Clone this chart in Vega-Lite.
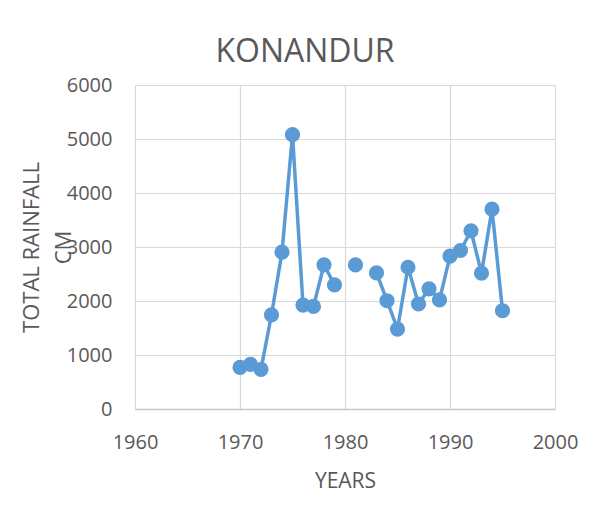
{
  "$schema": "https://vega.github.io/schema/vega-lite/v6.json",
  "width": 420,
  "height": 324,
  "autosize": {"type": "none"},
  "padding": {"left": 135, "top": 85, "right": 50, "bottom": 118},
  "background": "white",
  "config": {
    "view": {"stroke": null},
    "font": "Open Sans"
  },
  "title": {
    "text": "KONANDUR",
    "fontSize": 32,
    "fontWeight": "normal",
    "color": "#595959",
    "font": "Open Sans",
    "anchor": "middle",
    "baseline": "alphabetic",
    "offset": -19,
    "dx": -40
  },
  "data": {
    "values": [
      {"year": 1970, "rainfall": 770},
      {"year": 1971, "rainfall": 825},
      {"year": 1972, "rainfall": 735},
      {"year": 1973, "rainfall": 1745},
      {"year": 1974, "rainfall": 2905},
      {"year": 1975, "rainfall": 5080},
      {"year": 1976, "rainfall": 1925},
      {"year": 1977, "rainfall": 1900},
      {"year": 1978, "rainfall": 2670},
      {"year": 1979, "rainfall": 2300},
      {"year": 1980, "rainfall": null},
      {"year": 1981, "rainfall": 2670},
      {"year": 1982, "rainfall": null},
      {"year": 1983, "rainfall": 2520},
      {"year": 1984, "rainfall": 2005},
      {"year": 1985, "rainfall": 1480},
      {"year": 1986, "rainfall": 2625},
      {"year": 1987, "rainfall": 1945},
      {"year": 1988, "rainfall": 2225},
      {"year": 1989, "rainfall": 2020},
      {"year": 1990, "rainfall": 2830},
      {"year": 1991, "rainfall": 2935},
      {"year": 1992, "rainfall": 3300},
      {"year": 1993, "rainfall": 2515},
      {"year": 1994, "rainfall": 3700},
      {"year": 1995, "rainfall": 1820}
    ]
  },
  "encoding": {
    "x": {
      "field": "year",
      "type": "quantitative",
      "scale": {"domain": [1960, 2000], "nice": false, "zero": false},
      "axis": {
        "values": [1960, 1970, 1980, 1990, 2000],
        "format": "d",
        "title": "YEARS",
        "titleFont": "Open Sans",
        "titleFontSize": 21,
        "titleFontWeight": "normal",
        "titleColor": "#595959",
        "titleBaseline": "alphabetic",
        "titleX": 210,
        "titleY": 78,
        "labelFont": "Open Sans",
        "labelFontSize": 20,
        "labelColor": "#595959",
        "labelBaseline": "alphabetic",
        "labelPadding": 39,
        "ticks": false,
        "tickSize": 0,
        "domainColor": "#c8c8c8",
        "domainWidth": 1.5,
        "grid": true,
        "gridColor": "#d9d9d9",
        "gridWidth": 1.2,
        "labelFlush": false,
        "labelOverlap": false
      }
    },
    "y": {
      "field": "rainfall",
      "type": "quantitative",
      "scale": {"domain": [0, 6000], "nice": false},
      "axis": {
        "values": [0, 1000, 2000, 3000, 4000, 5000, 6000],
        "format": "d",
        "title": ["TOTAL RAINFALL", "CM"],
        "titleFont": "Open Sans",
        "titleFontSize": 22,
        "titleFontWeight": "normal",
        "titleColor": "#595959",
        "titleAngle": -90,
        "titleAlign": "center",
        "titleBaseline": "alphabetic",
        "titleLineHeight": 32,
        "titleX": -97,
        "titleY": 162,
        "labelFont": "Open Sans",
        "labelFontSize": 20,
        "labelColor": "#595959",
        "labelPadding": 23,
        "ticks": false,
        "tickSize": 0,
        "domain": false,
        "grid": true,
        "gridColor": "#d9d9d9",
        "gridWidth": 1.2,
        "labelFlush": false,
        "labelOverlap": false
      }
    }
  },
  "layer": [
    {
      "mark": {"type": "line", "color": "#5b9bd5", "strokeWidth": 3.5, "invalid": "break-paths-show-domains"}
    },
    {
      "mark": {"type": "point", "filled": true, "color": "#5b9bd5", "opacity": 1, "size": 230, "invalid": "filter"}
    }
  ]
}
